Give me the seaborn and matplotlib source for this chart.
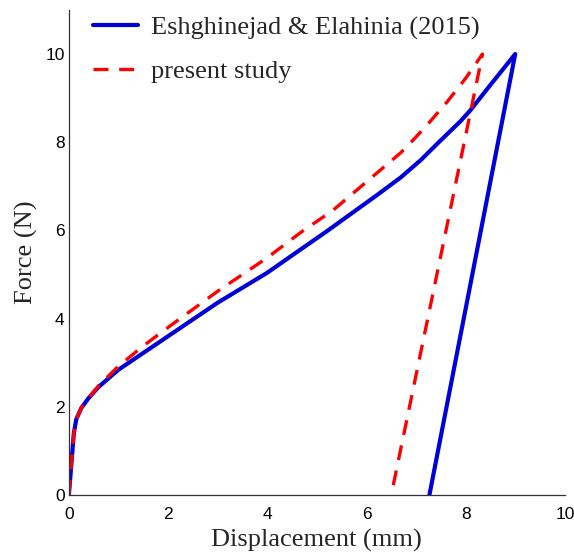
import numpy as np
import pandas as pd
import matplotlib
matplotlib.use("Agg")
import matplotlib.pyplot as plt
import seaborn as sns

# Data (loading branch then unloading)
ref_x = [0.0, 0.05, 0.1, 0.15, 0.25, 0.4, 0.6, 1.0, 1.5, 2.0, 3.0, 4.0, 4.65, 5.2, 5.68,
         6.2, 6.69, 7.1, 7.45, 7.9, 8.1, 8.5, 9.0, 7.27]
ref_y = [0.0, 0.7, 1.4, 1.72, 1.97, 2.2, 2.45, 2.84, 3.22, 3.6, 4.36, 5.04, 5.55, 5.98, 6.37,
         6.79, 7.2, 7.6, 7.99, 8.48, 8.73, 9.3, 10.0, 0.0]

pres_x = [0.0, 0.05, 0.1, 0.15, 0.25, 0.4, 0.6, 1.0, 1.5, 2.0, 3.0, 4.0, 4.67, 5.33, 6.02,
          6.69, 6.95, 7.23, 7.63, 8.0, 8.34, 6.5]
pres_y = [0.0, 0.7, 1.4, 1.72, 1.97, 2.2, 2.48, 2.92, 3.38, 3.8, 4.62, 5.38, 5.95, 6.46, 7.12,
          7.76, 8.06, 8.4, 8.92, 9.45, 10.0, 0.0]

labels = ["Eshghinejad & Elahinia (2015)", "present study"]
x_ticks = [0, 2, 4, 6, 8, 10]
y_ticks = [0, 2, 4, 6, 8, 10]

df_ref = pd.DataFrame({"x": ref_x, "y": ref_y})
df_pres = pd.DataFrame({"x": pres_x, "y": pres_y})

sns.set_style("white")
fig = plt.figure(figsize=(5.74, 5.53), dpi=100)
ax = fig.add_axes([0.120, 0.105, 0.864, 0.877])

sns.lineplot(data=df_ref, x="x", y="y", sort=False, estimator=None, ax=ax,
             color="#0000d8", linewidth=3.0, label=labels[0])
sns.lineplot(data=df_pres, x="x", y="y", sort=False, estimator=None, ax=ax,
             color="#ff0000", linewidth=2.4, linestyle=(0, (4.5, 3.2)), label=labels[1])

ax.set_xlim(0, 10)
ax.set_ylim(0, 11)
ax.set_xticks(x_ticks)
ax.set_yticks(y_ticks)
ax.tick_params(direction="in", length=5, width=0.8, colors="#333333",
               labelcolor="black", labelsize=12.5, pad=3)
ax.tick_params(axis="x", pad=9)
for lab in ax.get_xticklabels() + ax.get_yticklabels():
    lab.set_fontfamily("Liberation Sans")
for s in ["top", "right"]:
    ax.spines[s].set_visible(False)
for s in ["left", "bottom"]:
    ax.spines[s].set_color("#333333")
    ax.spines[s].set_linewidth(0.9)

ax.set_xlabel("Displacement (mm)", fontfamily="Liberation Serif", fontsize=19, labelpad=5)
ax.set_ylabel("Force (N)", fontfamily="Liberation Serif", fontsize=19, labelpad=5)

leg = ax.legend(loc="upper left", frameon=False, prop={"family": "Liberation Serif", "size": 19},
                handlelength=1.7, handletextpad=0.5, labelspacing=0.76, borderaxespad=0.0,
                bbox_to_anchor=(0.027, 1.01))

fig.savefig("out.png", dpi=100)
